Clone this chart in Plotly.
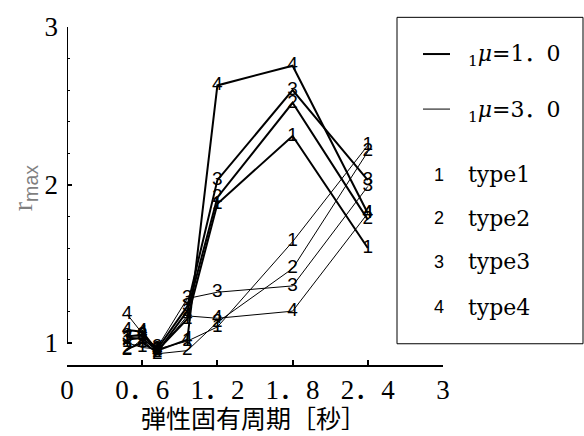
import plotly.graph_objects as go

# ---- data ----
periods = [0.48, 0.6, 0.72, 0.96, 1.2, 1.8, 2.4]
types = ["1", "2", "3", "4"]

# mu = 1.0 (thick lines)
mu1_type1 = [1.02, 1.03, 0.95, 1.15, 1.88, 2.31, 1.60]
mu1_type2 = [0.96, 1.00, 0.94, 1.20, 1.92, 2.52, 1.78]
mu1_type3 = [1.04, 1.05, 0.96, 1.23, 2.03, 2.60, 2.03]
mu1_type4 = [1.08, 1.07, 0.95, 1.02, 2.63, 2.755, 1.82]

# mu = 3.0 (thin lines)
mu3_type1 = [1.00, 0.97, 0.96, 1.01, 1.10, 1.64, 2.25]
mu3_type2 = [0.95, 1.02, 0.93, 0.95, 1.13, 1.47, 2.21]
mu3_type3 = [1.03, 1.04, 0.97, 1.28, 1.32, 1.36, 1.99]
mu3_type4 = [1.18, 1.06, 0.94, 1.17, 1.155, 1.20, 1.82]

x_tickvals = [0, 0.6, 1.2, 1.8, 2.4, 3]
x_ticktext = ["0", "0．6", "1．2", "1．8", "2．4", "3"]
y_tickvals = [1, 2, 3]
y_ticktext = ["1", "2", "3"]

legend_mu = ["<sub>1</sub><i>μ</i>=1．0", "<sub>1</sub><i>μ</i>=3．0"]
legend_types = ["type1", "type2", "type3", "type4"]

# ---- layout geometry (pixels) ----
W, H = 584, 436
L, R, T, B = 67, 141, 15, 71
PW, PH = W - L - R, H - T - B


def px(x):
    return (x - L) / PW


def py(y):
    return (H - B - y) / PH


SERIF = "Liberation Serif, Noto Sans CJK JP"
SANS = "Liberation Sans, Arial, sans-serif"

fig = go.Figure()

groups = [
    (2.0, [mu1_type1, mu1_type2, mu1_type3, mu1_type4]),
    (1.0, [mu3_type1, mu3_type2, mu3_type3, mu3_type4]),
]
for width, series in groups:
    for t, vals in zip(types, series):
        fig.add_trace(go.Scatter(
            x=periods, y=vals, mode="lines+text",
            text=[t] * len(periods), textposition="middle center",
            textfont=dict(family=SANS, size=19, color="black"),
            line=dict(color="black", width=width),
            showlegend=False, cliponaxis=False,
        ))

shapes = []
# y axis line from 1 to 3
shapes.append(dict(type="line", xref="x", yref="y", x0=0, x1=0, y0=1, y1=3,
                   line=dict(color="black", width=2)))
# legend box
shapes.append(dict(type="rect", xref="paper", yref="paper",
                   x0=px(397), x1=px(583), y0=py(343), y1=py(5),
                   line=dict(color="black", width=1), fillcolor="white"))
shapes.append(dict(type="line", xref="paper", yref="paper",
                   x0=px(423), x1=px(450), y0=py(43), y1=py(43),
                   line=dict(color="black", width=2)))
shapes.append(dict(type="line", xref="paper", yref="paper",
                   x0=px(423), x1=px(450), y0=py(100), y1=py(100),
                   line=dict(color="black", width=1)))

annotations = []
for lab, yy in zip(legend_mu, [45, 102]):
    annotations.append(dict(xref="paper", yref="paper", x=px(466), y=py(yy),
                            xanchor="left", yanchor="middle", showarrow=False,
                            text=lab, font=dict(family="DejaVu Serif, Noto Sans CJK JP",
                                                size=22, color="black")))
for t, lab, yy in zip(types, legend_types, [168, 213, 258, 305]):
    annotations.append(dict(xref="paper", yref="paper", x=px(439), y=py(yy),
                            xanchor="center", yanchor="middle", showarrow=False,
                            text=t, font=dict(family=SANS, size=18, color="black")))
    annotations.append(dict(xref="paper", yref="paper", x=px(466), y=py(yy),
                            xanchor="left", yanchor="middle", showarrow=False,
                            text=lab, font=dict(family="DejaVu Serif", size=22,
                                                color="black")))
# axis titles
annotations.append(dict(xref="paper", yref="paper", x=px(253), y=py(419),
                        xanchor="center", yanchor="middle", showarrow=False,
                        text="弾性固有周期［秒］",
                        font=dict(family="Noto Sans CJK JP", size=25, color="black")))
annotations.append(dict(xref="paper", yref="paper", x=px(24), y=py(182),
                        xanchor="center", yanchor="middle", showarrow=False,
                        textangle=-90,
                        text="r<sub><span style='font-family:Liberation Sans'>max</span></sub>",
                        font=dict(family="Liberation Serif", size=28, color="#7f7f7f")))

fig.update_layout(
    width=W, height=H,
    margin=dict(l=L, r=R, t=T, b=B, pad=0),
    paper_bgcolor="white", plot_bgcolor="white",
    shapes=shapes, annotations=annotations,
    xaxis=dict(range=[0, 3], tickvals=x_tickvals, ticktext=x_ticktext,
               ticks="inside", ticklen=5, tickwidth=1.5, tickcolor="black",
               showline=True, linecolor="black", linewidth=2,
               showgrid=False, zeroline=False, ticklabelstandoff=0,
               tickfont=dict(family=SERIF, size=27, color="black")),
    yaxis=dict(range=[0.859, 3], tickvals=y_tickvals, ticktext=y_ticktext,
               ticks="inside", ticklen=5, tickwidth=1.5, tickcolor="black",
               minor=dict(tick0=1, dtick=0.2, ticks="inside", ticklen=3,
                          tickwidth=1, tickcolor="black"),
               showline=False, showgrid=False, zeroline=False,
               ticklabelstandoff=8,
               tickfont=dict(family=SERIF, size=27, color="black")),
)

fig.write_html("out.html")
